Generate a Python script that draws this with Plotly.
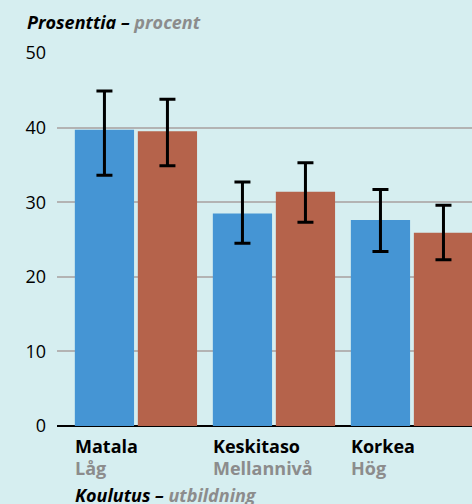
import plotly.graph_objects as go

categories = ["Matala", "Keskitaso", "Korkea"]
categories_sv = ["Låg", "Mellannivå", "Hög"]
series1 = [39.7, 28.5, 27.6]
series1_hi = [44.9, 32.7, 31.7]
series1_lo = [33.6, 24.5, 23.4]
series2 = [39.5, 31.4, 25.9]
series2_hi = [43.8, 35.3, 29.6]
series2_lo = [34.9, 27.3, 22.3]
y_ticks = [0, 10, 20, 30, 40, 50]

BLUE = "#4595d4"
RED = "#b5634b"
GRAY = "#8c8c8c"
FONT = "Open Sans"

fig = go.Figure()
for vals, hi, lo, col in [(series1, series1_hi, series1_lo, BLUE), (series2, series2_hi, series2_lo, RED)]:
    fig.add_trace(go.Bar(
        x=categories, y=vals, marker=dict(color=col, line=dict(width=0)),
        error_y=dict(type="data", symmetric=False,
                     array=[h - v for h, v in zip(hi, vals)],
                     arrayminus=[v - l for v, l in zip(vals, lo)],
                     color="black", thickness=3, width=8),
        showlegend=False))

fig.update_layout(
    width=472, height=504,
    paper_bgcolor="#d6eef0", plot_bgcolor="#d6eef0",
    margin=dict(l=57, r=0, t=53, b=78),
    barmode="group", bargap=0.087, bargroupgap=0.06,
    font=dict(family=FONT, size=18, color="black"),
)
fig.update_xaxes(range=[-0.572, 2.435], showticklabels=False, showgrid=False,
                 showline=False, zeroline=False, ticks="")
fig.update_yaxes(range=[0, 50], tickvals=y_ticks, showgrid=True, gridcolor="#b3b3b3",
                 gridwidth=1.5, zeroline=True, zerolinecolor="black", zerolinewidth=2,
                 ticks="", ticklabelstandoff=10, tickfont=dict(size=18, color="black"))

for i, (fi, sv) in enumerate(zip(categories, categories_sv)):
    fig.add_annotation(x=i - 0.457, y=0, xref="x", yref="y", yshift=-6,
                       text=f"<b>{fi}</b>", showarrow=False, xanchor="left", yanchor="top",
                       font=dict(size=18, color="black", family=FONT))
    fig.add_annotation(x=i - 0.457, y=0, xref="x", yref="y", yshift=-28,
                       text=f"<b>{sv}</b>", showarrow=False, xanchor="left", yanchor="top",
                       font=dict(size=18, color=GRAY, family=FONT))

fig.add_annotation(x=0, y=1, xref="paper", yref="paper", xshift=-32, yshift=45,
                   text="<b><i>Prosenttia –</i></b> <b><i><span style='color:#8c8c8c'>procent</span></i></b>",
                   showarrow=False, xanchor="left", yanchor="top",
                   font=dict(size=18, color="black", family=FONT))
fig.add_annotation(x=-0.457, y=0, xref="x", yref="y", yshift=-55,
                   text="<b><i>Koulutus –</i></b> <b><i><span style='color:#8c8c8c'>utbildning</span></i></b>",
                   showarrow=False, xanchor="left", yanchor="top",
                   font=dict(size=18, color="black", family=FONT))

fig.write_html("out.html", config={"displayModeBar": False},
               post_script="document.body.style.margin='0';document.body.style.overflow='hidden';")
